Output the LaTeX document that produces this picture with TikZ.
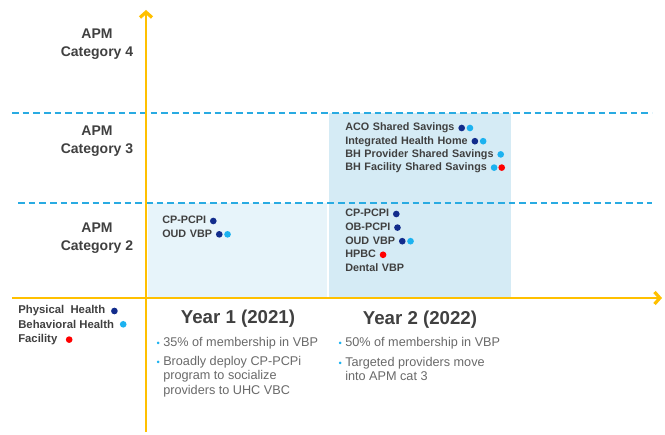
\documentclass[tikz,border=0pt]{standalone}
\usepackage{fontspec}
\setmainfont{Liberation Sans}
\usepackage{xcolor}
\usepackage{tikz}
\usetikzlibrary{arrows.meta,positioning}

\definecolor{axisgold}{RGB}{255,192,0}
\definecolor{catline}{RGB}{41,171,226}
\definecolor{yronefill}{RGB}{231,244,250}
\definecolor{yrtwofill}{RGB}{213,235,245}
\definecolor{phblue}{RGB}{18,44,140}
\definecolor{bhblue}{RGB}{28,178,240}
\definecolor{facred}{RGB}{255,0,0}
\definecolor{labelgray}{RGB}{64,64,64}
\definecolor{notegray}{RGB}{105,105,105}

\newcommand{\nb}{\llap{{\color{bhblue}\fontsize{7}{7}\selectfont\textbullet}\hspace{2.5pt}}}
\newcommand{\entryfont}{\bfseries\fontsize{8.1}{9.5}\selectfont\spaceskip=2.7pt\relax}

\begin{document}
\begin{tikzpicture}[
      x=0.75pt, y=-0.75pt,
      axis/.style={draw=axisgold, line width=2pt, -{Straight Barb[length=4pt, width=9pt, line width=2.4pt]}},
      catsep/.style={draw=catline, line width=1pt, dash pattern=on 5pt off 3pt},
      cat/.style={font=\bfseries\fontsize{10.5}{13.5}\selectfont, text=labelgray, align=center},
      entry/.style={font=\entryfont, text=labelgray, inner sep=0pt, text height=6pt, text depth=1.6pt},
      dot/.style={circle, fill=#1, inner sep=0pt, minimum size=5pt},
      year/.style={font=\bfseries\fontsize{14}{16}\selectfont, text=labelgray},
      note/.style={font=\fontsize{9.5}{10.9}\selectfont, text=notegray, align=left, anchor=north west, inner sep=0pt},
      legend/.style={font=\bfseries\fontsize{8.5}{10}\selectfont, text=labelgray, inner sep=0pt, anchor=west}
    ]
    \useasboundingbox (0,0) rectangle (665,435);

    % shaded year blocks
    \fill[yronefill] (148,203) rectangle (327,298);
    \fill[yrtwofill] (329,113) rectangle (511,298);

    % category bands
    \coordinate (c3l) at (12,113);
    \coordinate (c3r) at (652,113);
    \coordinate (c2l) at (18,203);
    \coordinate (c2r) at (652,203);
    \draw[catsep] (c3l) -- (c3r);
    \draw[catsep] (c2l) -- (c2r);

    % axes
    \coordinate (ybot) at (146,432);
    \coordinate (ytop) at (146,10);
    \coordinate (xleft) at (12,298);
    \coordinate (xright) at (662,298);
    \draw[axis] (ybot) -- (ytop);
    \draw[axis] (xleft) -- (xright);

    \node[cat] (cat4) at (97,44) {APM\\Category 4};
    \node[cat] (cat3) at (97,141) {APM\\Category 3};
    \node[cat] (cat2) at (97,238) {APM\\Category 2};

    % year 1, category 2
    \node[entry, anchor=west] (a-cp) at (162,221) {CP-PCPI};
    \node[entry, below=2pt of a-cp.south west, anchor=north west] (a-oud) {OUD VBP};
    \node[dot=phblue, right=2.5pt of a-cp] (a-cp-ph) {};
    \node[dot=phblue, right=2.5pt of a-oud] (a-oud-ph) {};
    \node[dot=bhblue, right=0.8pt of a-oud-ph] (a-oud-bh) {};

    % year 2, category 3
    \node[entry, anchor=west] (b-aco) at (345,128) {ACO Shared Savings};
    \node[entry, below=1.9pt of b-aco.south west, anchor=north west] (b-ihh) {Integrated Health Home};
    \node[entry, below=1.9pt of b-ihh.south west, anchor=north west] (b-bhp) {BH Provider Shared Savings};
    \node[entry, below=1.9pt of b-bhp.south west, anchor=north west] (b-bhf) {BH Facility Shared Savings};
    \node[dot=phblue, right=2.5pt of b-aco] (b-aco-ph) {};
    \node[dot=bhblue, right=0.8pt of b-aco-ph] (b-aco-bh) {};
    \node[dot=phblue, right=2.5pt of b-ihh] (b-ihh-ph) {};
    \node[dot=bhblue, right=0.8pt of b-ihh-ph] (b-ihh-bh) {};
    \node[dot=bhblue, right=2.5pt of b-bhp] (b-bhp-bh) {};
    \node[dot=bhblue, right=2.5pt of b-bhf] (b-bhf-bh) {};
    \node[dot=facred, right=0.3pt of b-bhf-bh] (b-bhf-fac) {};

    % year 2, category 2
    \node[entry, anchor=west] (c-cp) at (345,214) {CP-PCPI};
    \node[entry, below=2.2pt of c-cp.south west, anchor=north west] (c-ob) {OB-PCPI};
    \node[entry, below=2.2pt of c-ob.south west, anchor=north west] (c-oud) {OUD VBP};
    \node[entry, below=2.2pt of c-oud.south west, anchor=north west] (c-hpbc) {HPBC};
    \node[entry, below=2.2pt of c-hpbc.south west, anchor=north west] (c-dent) {Dental VBP};
    \node[dot=phblue, right=2.5pt of c-cp] (c-cp-ph) {};
    \node[dot=phblue, right=2.5pt of c-ob] (c-ob-ph) {};
    \node[dot=phblue, right=2.5pt of c-oud] (c-oud-ph) {};
    \node[dot=bhblue, right=0.8pt of c-oud-ph] (c-oud-bh) {};
    \node[dot=facred, right=2.5pt of c-hpbc] (c-hpbc-fac) {};

    % legend
    \node[legend] (lg-ph) at (18,311) {Physical\ \ Health};
    \node[legend, below=2.5pt of lg-ph.south west, anchor=north west] (lg-bh) {Behavioral Health};
    \node[legend, below=4pt of lg-bh.south west, anchor=north west] (lg-fac) {Facility};
    \node[dot=phblue, right=4pt of lg-ph] (lg-ph-dot) {};
    \node[dot=bhblue, right=4pt of lg-bh] (lg-bh-dot) {};
    \node[dot=facred, right=6pt of lg-fac] (lg-fac-dot) {};

    % year columns
    \node[year] (yr1) at (238,319) {Year 1 (2021)};
    \node[year] (yr2) at (420,320) {Year 2 (2022)};
    \node[note] (yr1-a) at (163,337) {\nb 35\% of membership in VBP};
    \node[note] (yr1-b) at (163,356) {\nb Broadly deploy CP-PCPi\\program to socialize\\providers to UHC VBC};
    \node[note] (yr2-a) at (345,337) {\nb 50\% of membership in VBP};
    \node[note] (yr2-b) at (345,357) {\nb Targeted providers move\\into APM cat 3};
  \end{tikzpicture}
\end{document}
